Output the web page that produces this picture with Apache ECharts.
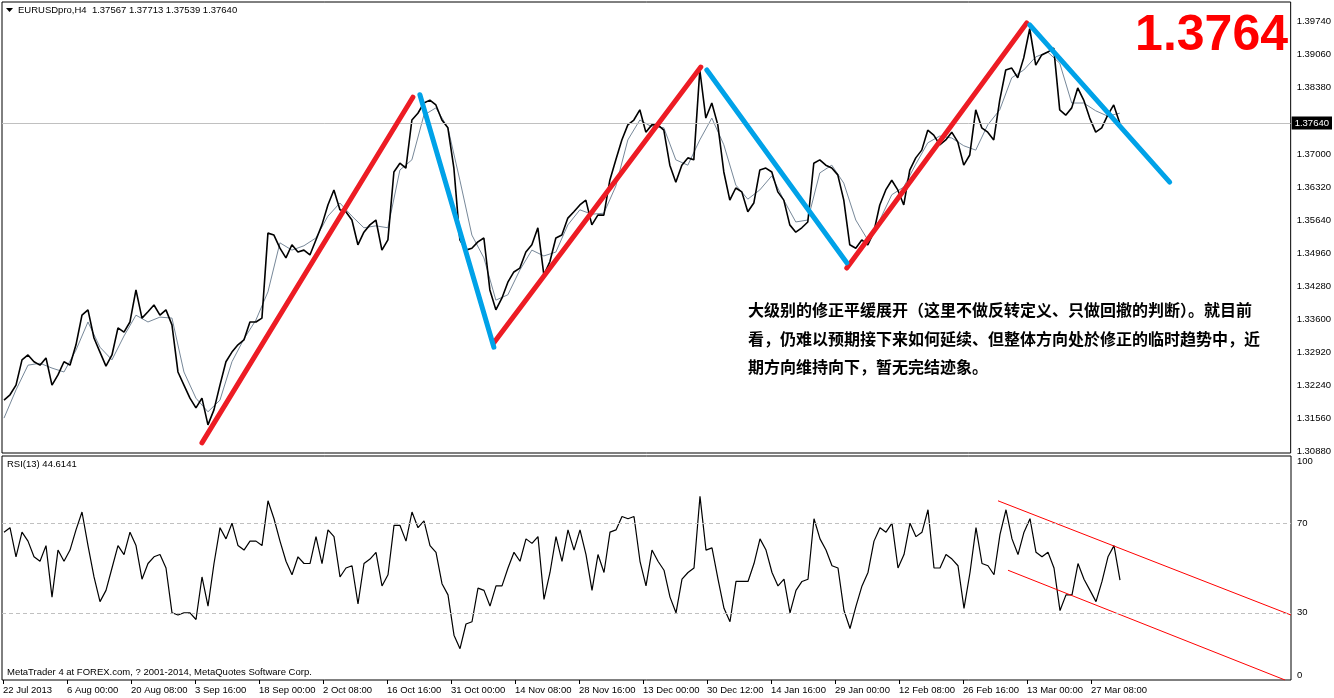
<!DOCTYPE html>
<html><head><meta charset="utf-8">
<script src="https://cdn.jsdelivr.net/npm/echarts@6/dist/echarts.min.js"></script>
<style>html,body{margin:0;padding:0;background:#fff}#c{width:1334px;height:698px}</style>
</head><body><div id="c"></div>
<script>
// ---- data (x unit = H4 bar index, y = price / RSI) ----
const X_START = 2, X_STEP = 6, MA_STEP = 12;
const closePrice = [
 1.3193,1.3204,1.3224,1.3276,1.3286,1.3272,1.3265,1.3280,1.3224,1.3245,
 1.3272,1.3265,1.3307,1.3368,1.3379,1.3321,1.3292,1.3263,1.3286,1.3342,
 1.3333,1.3354,1.3420,1.3362,1.3375,1.3389,1.3368,1.3379,1.3348,1.3251,
 1.3224,1.3197,1.3177,1.3197,1.3142,1.3173,1.3224,1.3272,1.3292,1.3307,
 1.3317,1.3354,1.3354,1.3362,1.3537,1.3533,1.3506,1.3486,1.3513,1.3498,
 1.3502,1.3492,1.3523,1.3554,1.3595,1.3626,1.3585,1.3581,1.3564,1.3513,
 1.3539,1.3554,1.3564,1.3502,1.3523,1.3663,1.3681,1.3671,1.3770,1.3784,
 1.3805,1.3811,1.3801,1.3770,1.3754,1.3671,1.3523,1.3502,1.3506,1.3519,
 1.3527,1.3420,1.3379,1.3403,1.3436,1.3457,1.3465,1.3498,1.3513,1.3548,
 1.3451,1.3478,1.3527,1.3533,1.3568,1.3581,1.3595,1.3605,1.3554,1.3574,
 1.3574,1.3646,1.3688,1.3729,1.3760,1.3770,1.3791,1.3745,1.3760,1.3760,
 1.3749,1.3677,1.3642,1.3677,1.3692,1.3688,1.3873,1.3774,1.3805,1.3760,
 1.3663,1.3605,1.3630,1.3622,1.3581,1.3599,1.3667,1.3671,1.3663,1.3622,
 1.3605,1.3554,1.3539,1.3548,1.3560,1.3681,1.3688,1.3677,1.3671,1.3657,
 1.3605,1.3513,1.3506,1.3523,1.3513,1.3539,1.3595,1.3626,1.3646,1.3626,
 1.3595,1.3667,1.3692,1.3708,1.3749,1.3739,1.3719,1.3729,1.3745,1.3725,
 1.3677,1.3698,1.3791,1.3754,1.3745,1.3729,1.3811,1.3873,1.3877,1.3857,
 1.3898,1.3958,1.3883,1.3904,1.3910,1.3918,1.3791,1.3780,1.3795,1.3836,
 1.3811,1.3774,1.3745,1.3754,1.3780,1.3801,1.3764];
const maPrice = [
 1.3156,1.3214,1.3265,1.3269,1.3259,1.3251,1.3296,1.3354,1.3302,1.3276,
 1.3325,1.3368,1.3354,1.3364,1.3362,1.3251,1.3197,1.3169,1.3193,1.3272,
 1.3319,1.3358,1.3416,1.3517,1.3502,1.3511,1.3527,1.3572,1.3599,1.3572,
 1.3548,1.3552,1.3548,1.3667,1.3688,1.3780,1.3795,1.3754,1.3646,1.3533,
 1.3486,1.3399,1.3410,1.3461,1.3502,1.3490,1.3498,1.3554,1.3585,1.3576,
 1.3578,1.3634,1.3729,1.3770,1.3756,1.3754,1.3688,1.3677,1.3729,1.3774,
 1.3719,1.3636,1.3607,1.3626,1.3655,1.3605,1.3560,1.3564,1.3661,1.3677,
 1.3640,1.3564,1.3523,1.3564,1.3616,1.3632,1.3679,1.3723,1.3737,1.3733,
 1.3717,1.3708,1.3760,1.3791,1.3857,1.3873,1.3900,1.3910,1.3887,1.3805,
 1.3805,1.3789,1.3778,1.3784];
const rsi13 = [
 66,68,55,66,62,55,53,60,37,58,
 53,58,67,75,60,46,35,40,50,60,
 56,66,60,45,52,55,56,50,30,29,
 30,30,27,46,33,52,68,63,70,60,
 58,62,62,60,80,72,62,53,47,55,
 52,52,64,52,67,64,46,50,51,34,
 52,54,57,42,47,69,69,62,75,68,
 71,60,57,43,38,20,14,25,26,41,
 40,33,42,42,50,57,53,63,61,64,
 36,48,64,53,67,58,67,56,40,56,
 48,66,67,73,72,73,53,42,58,53,
 49,37,30,45,48,50,82,58,59,45,
 32,26,44,44,44,52,63,58,48,42,
 45,30,40,44,45,72,63,58,51,50,
 31,23,33,42,48,62,68,66,70,50,
 56,70,64,66,76,50,50,56,54,51,
 32,48,68,52,51,47,65,76,63,56,
 66,72,57,55,57,50,31,38,38,52,
 45,40,35,44,55,60,44.6141];
const redTrends = [
 [[200,1.3105],[411,1.3817]],
 [[492,1.3311],[699,1.3879]],
 [[845,1.3465],[1025,1.3970]]];
const blueTrends = [
 [[418,1.3822],[492,1.3302]],
 [[705,1.3873],[845,1.3476]],
 [[1028,1.3966],[1168,1.3642]]];
const rsiChannel = [
 [[996,80.0],[1289,29.0]],
 [[1006,49.0],[1283,0]]];
const priceTicks = [1.3974,1.3906,1.3838,1.3700,1.3632,1.3564,1.3496,1.3428,1.3360,1.3292,1.3224,1.3156,1.3088];
const rsiTicks = [0,30,70,100];
const rsiLevels = [70,30];
const lastPrice = 1.3764;
const dateLabels = ["22 Jul 2013","6 Aug 00:00","20 Aug 08:00","3 Sep 16:00","18 Sep 00:00","2 Oct 08:00","16 Oct 16:00","31 Oct 00:00","14 Nov 08:00","28 Nov 16:00","13 Dec 00:00","30 Dec 12:00","14 Jan 16:00","29 Jan 00:00","12 Feb 08:00","26 Feb 16:00","13 Mar 00:00","27 Mar 08:00"];
const DATE_FIRST_BAR = 1, DATE_STEP = 64;
const noteLines = [
 "大级别的修正平缓展开（这里不做反转定义、只做回撤的判断）。就目前",
 "看，仍难以预期接下来如何延续、但整体方向处於修正的临时趋势中，近",
 "期方向维持向下，暂无完结迹象。"];
const titleText = "EURUSDpro,H4  1.37567 1.37713 1.37539 1.37640";
const rsiTitle = "RSI(13) 44.6141";
const footer = "MetaTrader 4 at FOREX.com, ? 2001-2014, MetaQuotes Software Corp.";
const bigPrice = "1.3764";

// ---- chart ----
const toPts = (arr, start, step) => arr.map((v, i) => [start + i * step, v]);
const dateTickBars = dateLabels.map((_, i) => DATE_FIRST_BAR + i * DATE_STEP);
const FONT = 'Liberation Sans';
const XMAX = 1289;

const trendSeries = (segs, color) => segs.map(s => ({
  type: 'line', xAxisIndex: 0, yAxisIndex: 0, data: s, showSymbol: false, symbol: 'none',
  lineStyle: { color: color, width: 5, cap: 'round' }, z: 6, silent: true
}));

const chart = echarts.init(document.getElementById('c'), null, { renderer: 'canvas' });
chart.setOption({
  animation: false,
  backgroundColor: '#fff',
  grid: [
    { left: 2, top: 2, width: 1289, height: 451, show: true, borderColor: '#000', borderWidth: 1, backgroundColor: '#fff' },
    { left: 2, top: 456, width: 1289, height: 224, show: true, borderColor: '#000', borderWidth: 1, backgroundColor: '#fff' }
  ],
  xAxis: [
    { type: 'value', gridIndex: 0, min: 0, max: XMAX, show: false },
    { type: 'value', gridIndex: 1, min: 0, max: XMAX,
      axisLine: { show: false }, splitLine: { show: false },
      axisTick: { show: true, customValues: dateTickBars, length: 4, lineStyle: { color: '#000' } },
      axisLabel: { customValues: dateTickBars, align: 'left', margin: 5, fontFamily: FONT, fontSize: 9.5, color: '#000',
        formatter: v => dateLabels[Math.round((v - DATE_FIRST_BAR) / DATE_STEP)] || '' } }
  ],
  yAxis: [
    { type: 'value', gridIndex: 0, position: 'right', min: 1.30841, max: 1.40131,
      axisLine: { show: false }, axisTick: { show: false }, splitLine: { show: false },
      axisLabel: { customValues: priceTicks, margin: 6, fontFamily: FONT, fontSize: 9.5, color: '#000', formatter: v => v.toFixed(5) } },
    { type: 'value', gridIndex: 1, position: 'right', min: 0, max: 100,
      axisLine: { show: false }, axisTick: { show: false }, splitLine: { show: false },
      axisLabel: { customValues: rsiTicks, margin: 6, fontFamily: FONT, fontSize: 9.5, color: '#000',
        verticalAlignMinLabel: 'bottom', verticalAlignMaxLabel: 'top' } }
  ],
  series: [
    { type: 'line', xAxisIndex: 0, yAxisIndex: 0, data: [], z: 1,
      markLine: { silent: true, symbol: ['none', 'none'], animation: false, precision: 5,
        lineStyle: { color: '#C0C0C0', width: 1, type: 'solid' },
        label: { show: true, position: 'end', distance: 1, formatter: lastPrice.toFixed(5), backgroundColor: '#000', color: '#fff',
          fontFamily: FONT, fontSize: 9.5, padding: [2, 3, 1, 3] },
        data: [{ yAxis: lastPrice }] } },
    { type: 'line', xAxisIndex: 0, yAxisIndex: 0, data: toPts(maPrice, X_START, MA_STEP), showSymbol: false, symbol: 'none',
      lineStyle: { color: '#778899', width: 1 }, z: 2, silent: true },
    { type: 'line', xAxisIndex: 0, yAxisIndex: 0, data: toPts(closePrice, X_START, X_STEP), showSymbol: false, symbol: 'none',
      lineStyle: { color: '#000', width: 1.6 }, z: 3, silent: true },
    ...trendSeries(redTrends, '#ED1C24'),
    ...trendSeries(blueTrends, '#00A2E8'),
    { type: 'line', xAxisIndex: 1, yAxisIndex: 1, data: [], z: 1,
      markLine: { silent: true, symbol: ['none', 'none'], animation: false, precision: 2, label: { show: false },
        lineStyle: { color: '#C0C0C0', width: 1, type: [4, 3] },
        data: rsiLevels.map(v => ({ yAxis: v })) } },
    { type: 'line', xAxisIndex: 1, yAxisIndex: 1, data: toPts(rsi13, X_START, X_STEP), showSymbol: false, symbol: 'none',
      lineStyle: { color: '#000', width: 1.2 }, z: 3, silent: true },
    ...rsiChannel.map(s => ({ type: 'line', xAxisIndex: 1, yAxisIndex: 1, data: s, showSymbol: false, symbol: 'none',
      lineStyle: { color: '#FF0000', width: 1 }, z: 4, silent: true }))
  ],
  graphic: [
    { type: 'polygon', shape: { points: [[6, 8], [13, 8], [9.5, 12]] }, style: { fill: '#000' } },
    { type: 'text', x: 18, y: 10, style: { text: titleText, font: '9.5px "Liberation Sans"', fill: '#000', verticalAlign: 'middle' } },
    { type: 'text', x: 7, y: 464, style: { text: rsiTitle, font: '9.5px "Liberation Sans"', fill: '#000', verticalAlign: 'middle' } },
    { type: 'text', x: 7, y: 672, style: { text: footer, font: '9.5px "Liberation Sans"', fill: '#000', verticalAlign: 'middle' } },
    { type: 'text', x: 1288, y: 36, style: { text: bigPrice, font: 'bold 50px "Liberation Sans"', fill: '#FF0000', align: 'right', verticalAlign: 'middle' } },
    ...noteLines.map((t, i) => ({ type: 'text', x: 748, y: [310, 339, 367][i],
      style: { text: t, font: 'bold 16px "Noto Sans CJK SC"', fill: '#000', verticalAlign: 'middle' } }))
  ]
});
</script>
</body></html>
